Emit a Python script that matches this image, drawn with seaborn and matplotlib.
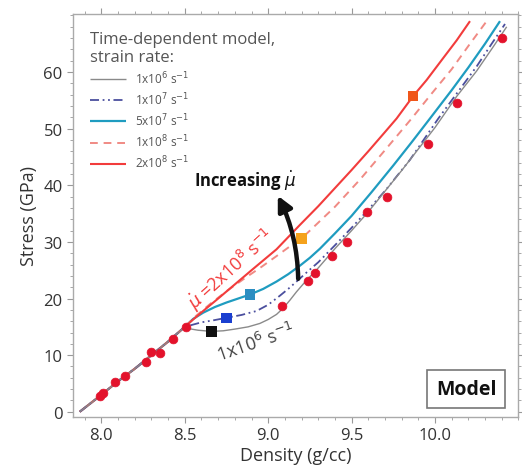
import numpy as np
import pandas as pd
import matplotlib
matplotlib.use("Agg")
import matplotlib.pyplot as plt
import seaborn as sns
from matplotlib.patches import FancyArrowPatch
from matplotlib.ticker import MultipleLocator, FormatStrFormatter

# experimental points (red dots)
exp_density = [7.99, 8.01, 8.08, 8.14, 8.27, 8.30, 8.35, 8.43, 8.51, 9.08,
               9.24, 9.28, 9.38, 9.47, 9.59, 9.71, 9.96, 10.13, 10.40]
exp_stress = [2.8, 3.4, 5.3, 6.4, 8.8, 10.6, 10.4, 12.9, 15.0, 18.7,
              23.1, 24.5, 27.6, 30.0, 35.3, 38.0, 47.3, 54.6, 66.1]

# shared low-density part of every model curve
base_d = [7.87, 8.0, 8.1, 8.2, 8.3, 8.4, 8.5]
base_s = [0.0, 3.0, 5.4, 7.6, 10.0, 12.4, 15.0]

# model curves, one per strain rate
d_1e6 = [8.54, 8.58, 8.66, 8.73, 8.8, 8.88, 8.95, 9.0, 9.05, 9.09, 9.13, 9.17,
         9.22, 9.3, 9.4, 9.5, 9.6, 9.8, 10.0, 10.13, 10.25, 10.35, 10.43]
s_1e6 = [14.6, 14.4, 14.2, 14.3, 14.6, 15.0, 15.6, 16.3, 17.2, 18.3, 19.7, 21.2,
         22.9, 25.4, 28.8, 32.0, 35.3, 42.6, 50.2, 55.7, 60.2, 64.5, 68.0]

d_1e7 = [8.55, 8.6, 8.68, 8.75, 8.84, 8.93, 9.0, 9.07, 9.12, 9.17, 9.23, 9.3,
         9.4, 9.5, 9.6, 9.7, 9.85, 10.02, 10.15, 10.25, 10.34, 10.42]
s_1e7 = [15.4, 15.8, 16.2, 16.6, 17.1, 17.8, 18.9, 20.5, 21.7, 23.0, 24.6, 26.4,
         29.4, 32.5, 35.7, 39.0, 44.5, 51.8, 57.0, 61.0, 65.0, 68.5]

d_5e7 = [8.55, 8.61, 8.68, 8.75, 8.82, 8.89, 8.97, 9.05, 9.12, 9.19, 9.25, 9.31,
         9.4, 9.5, 9.62, 9.75, 9.86, 9.97, 10.1, 10.2, 10.3, 10.39]
s_5e7 = [16.4, 17.5, 18.5, 19.3, 20.0, 20.7, 21.7, 23.0, 24.3, 25.8, 27.2, 28.8,
         31.5, 34.6, 38.8, 43.5, 47.6, 51.8, 56.8, 60.8, 65.0, 69.0]

d_1e8 = [8.57, 8.65, 8.75, 8.87, 8.96, 9.05, 9.12, 9.2, 9.3, 9.4, 9.55, 9.7,
         9.86, 9.98, 10.1, 10.2, 10.31]
s_1e8 = [17.0, 19.0, 21.3, 23.8, 25.6, 27.5, 29.0, 30.6, 33.4, 36.2, 41.0, 46.2,
         51.8, 56.2, 60.5, 64.6, 69.0]

d_2e8 = [8.55, 8.61, 8.7, 8.8, 8.9, 9.05, 9.19, 9.3, 9.4, 9.5, 9.6, 9.7, 9.77,
         9.87, 9.95, 10.05, 10.13, 10.21]
s_2e8 = [16.3, 17.8, 20.0, 22.5, 25.0, 28.7, 33.0, 36.3, 39.5, 42.7, 46.0, 49.4,
         51.8, 55.8, 58.6, 62.5, 65.6, 69.0]

# square markers where each model leaves the data
sq_density = [8.66, 8.75, 8.89, 9.20, 9.87]
sq_stress = [14.2, 16.6, 20.7, 30.6, 55.8]
sq_colors = ["#111111", "#1a3fd0", "#2b8ec2", "#f5a21c", "#f0561a"]

rate_labels = ["1x10$^6$ s$^{-1}$", "1x10$^7$ s$^{-1}$", "5x10$^7$ s$^{-1}$",
               "1x10$^8$ s$^{-1}$", "2x10$^8$ s$^{-1}$"]
x_ticks = [8.0, 8.5, 9.0, 9.5, 10.0]
y_ticks = [0, 10, 20, 30, 40, 50, 60]

sns.set_style("ticks")
plt.rcParams['font.family'] = ['Open Sans', 'DejaVu Sans']
plt.rcParams['mathtext.fontset'] = 'dejavusans'

fig = plt.figure(figsize=(5.22, 4.77), dpi=100)
ax = fig.add_axes([0.140, 0.124, 0.853, 0.845])

curves = [(d_1e6, s_1e6, "#8a8a8a", (0, ()), 1.0, 4),
          (d_1e7, s_1e7, "#4b4f9e", (0, (5, 2, 1, 2, 1, 2)), 1.3, 3),
          (d_5e7, s_5e7, "#1f9cc0", (0, ()), 1.6, 2),
          (d_1e8, s_1e8, "#f08a84", (0, (4, 3)), 1.4, 2),
          (d_2e8, s_2e8, "#f23c3c", (0, ()), 1.5, 2)]

for (dd, ss, col, ls, lw, z), lab in zip(curves, rate_labels):
    df = pd.DataFrame({"density": base_d + dd, "stress": base_s + ss})
    sns.lineplot(data=df, x="density", y="stress", color=col, lw=lw,
                 label=lab, ax=ax, sort=True, zorder=z)
    ax.lines[-1].set_linestyle(ls)

exp = pd.DataFrame({"density": exp_density, "stress": exp_stress})
sns.scatterplot(data=exp, x="density", y="stress", color="#e3122b", s=40,
                edgecolor="#e3122b", linewidth=0.5, ax=ax, zorder=5, legend=False)

sq = pd.DataFrame({"density": sq_density, "stress": sq_stress, "c": sq_colors})
sns.scatterplot(data=sq, x="density", y="stress", hue="c",
                palette=dict(zip(sq_colors, sq_colors)),
                marker="s", s=55, linewidth=0, ax=ax, zorder=6, legend=False)

ax.set_xlim(7.83, 10.50)
ax.set_ylim(-0.9, 70.3)
ax.set_xticks(x_ticks)
ax.set_yticks(y_ticks)
ax.xaxis.set_minor_locator(MultipleLocator(0.1))
ax.yaxis.set_minor_locator(MultipleLocator(2))
ax.xaxis.set_major_formatter(FormatStrFormatter("%.1f"))
ax.tick_params(which="both", top=True, right=True, colors="#999999",
               labelcolor="#333333", labelsize=12)
ax.tick_params(which="major", length=4)
ax.tick_params(which="minor", length=2)
for sp in ax.spines.values():
    sp.set_color("#aaaaaa")
    sp.set_linewidth(1.0)

ax.set_xlabel("Density (g/cc)", fontsize=13, color="#333333", labelpad=2)
ax.set_ylabel("Stress (GPa)", fontsize=13, color="#333333", labelpad=4)

leg = ax.legend(title="Time-dependent model,\nstrain rate:", loc="upper left",
                bbox_to_anchor=(0.02, 0.978), frameon=False, fontsize=8.5,
                title_fontsize=12, handlelength=3.0, labelspacing=0.38,
                borderaxespad=0.3)
leg._legend_box.align = "left"
leg.get_title().set_color("#555555")
for t in leg.get_texts():
    t.set_color("#555555")

ax.text(8.86, 41.0, "Increasing $\\dot{\\mu}$", fontsize=12, fontweight="bold",
        ha="center", va="center", color="#111111")
arrow = FancyArrowPatch((9.18, 23.0), (9.05, 38.6), arrowstyle="-|>",
                        connectionstyle="arc3,rad=0.12", mutation_scale=22,
                        lw=3.2, color="#111111", zorder=7)
ax.add_patch(arrow)

ax.text(8.78, 25.3, "$\\dot{\\mu}$ =2x10$^8$ s$^{-1}$", fontsize=13, color="#f23c3c",
        rotation=42, ha="center", va="center")
ax.text(8.93, 12.3, "1x10$^6$ s$^{-1}$", fontsize=13, color="#444444",
        rotation=19, ha="center", va="center")

ax.text(0.883, 0.069, "Model", transform=ax.transAxes, fontsize=14,
        fontweight="bold", ha="center", va="center", color="#111111",
        bbox=dict(boxstyle="square,pad=0.45", fc="white", ec="#777777", lw=1.2))

fig.savefig("out.png", dpi=100)
